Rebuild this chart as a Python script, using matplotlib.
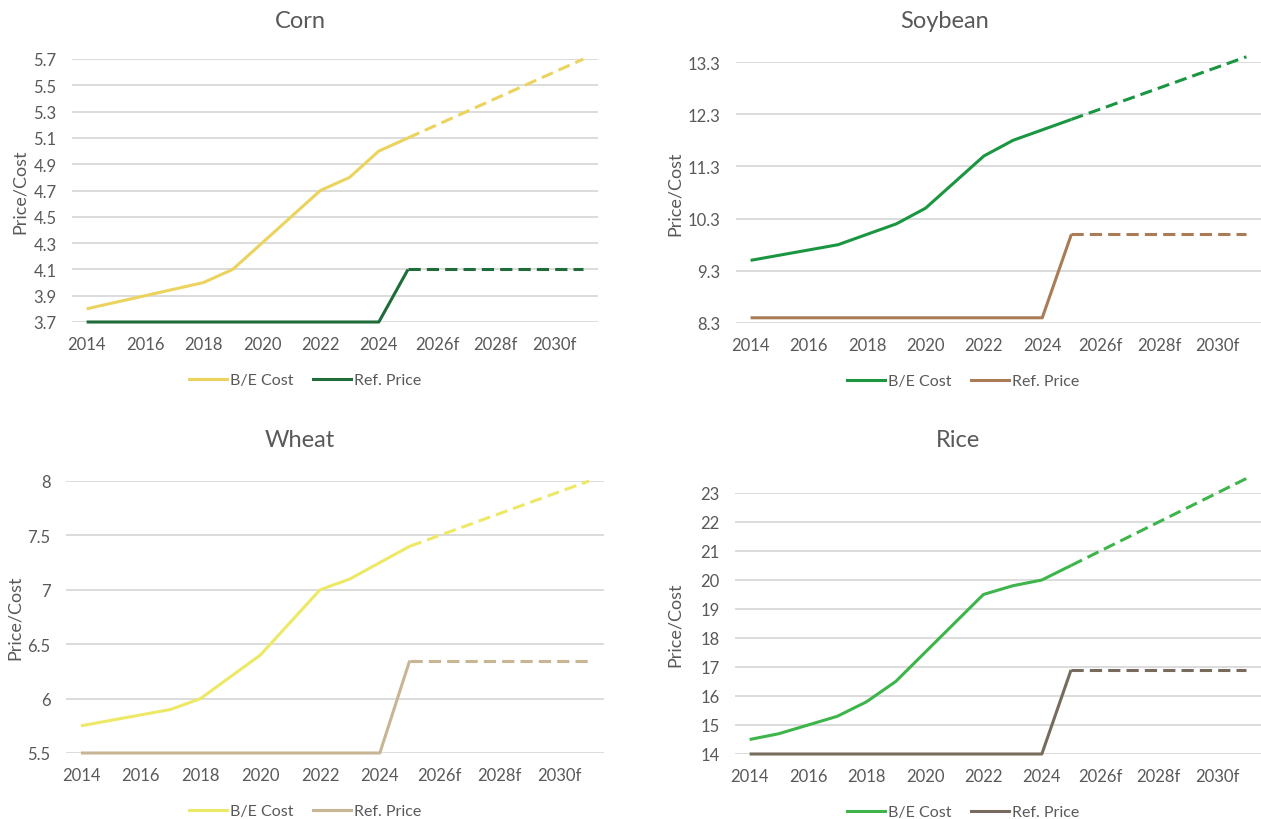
import matplotlib
matplotlib.use("Agg")
import matplotlib.pyplot as plt
from matplotlib.lines import Line2D

plt.rcParams['font.family'] = ['Lato', 'DejaVu Sans']

W, H = 1261, 820

years = list(range(2014, 2032))
tick_years = [2014, 2016, 2018, 2020, 2022, 2024, 2026, 2028, 2030]
tick_labels = ["2014", "2016", "2018", "2020", "2022", "2024", "2026f", "2028f", "2030f"]
last_actual = 2025

corn_cost = [3.8, 3.85, 3.9, 3.95, 4.0, 4.1, 4.3, 4.5, 4.7, 4.8, 5.0, 5.1,
             5.2, 5.3, 5.4, 5.5, 5.6, 5.7]
corn_ref = [3.7] * 11 + [4.1] * 7
corn_ticks = [3.7, 3.9, 4.1, 4.3, 4.5, 4.7, 4.9, 5.1, 5.3, 5.5, 5.7]

soy_cost = [9.5, 9.6, 9.7, 9.8, 10.0, 10.2, 10.5, 11.0, 11.5, 11.8, 12.0, 12.2,
            12.4, 12.6, 12.8, 13.0, 13.2, 13.4]
soy_ref = [8.4] * 11 + [10.0] * 7
soy_ticks = [8.3, 9.3, 10.3, 11.3, 12.3, 13.3]

wheat_cost = [5.75, 5.8, 5.85, 5.9, 6.0, 6.2, 6.4, 6.7, 7.0, 7.1, 7.25, 7.4,
              7.5, 7.6, 7.7, 7.8, 7.9, 8.0]
wheat_ref = [5.5] * 11 + [6.35] * 7
wheat_ticks = [5.5, 6, 6.5, 7, 7.5, 8]

rice_cost = [14.5, 14.7, 15.0, 15.3, 15.8, 16.5, 17.5, 18.5, 19.5, 19.8, 20.0, 20.5,
             21.0, 21.5, 22.0, 22.5, 23.0, 23.5]
rice_ref = [14.0] * 11 + [16.9] * 7
rice_ticks = [14, 15, 16, 17, 18, 19, 20, 21, 22, 23]

# name, cost, ref, ticks, cost colour, ref colour,
# axes box (px: left, right, top, bottom), title position, y-label x, legend centre x
panels = [
    ("Corn", corn_cost, corn_ref, corn_ticks, "#EBD35E", "#1F6B3A",
     (72, 598, 60, 323), (300, 21), 20, 305),
    ("Soybean", soy_cost, soy_ref, soy_ticks, "#1A9641", "#A97C55",
     (736, 1261, 63, 324), (945, 21), 675, 963),
    ("Wheat", wheat_cost, wheat_ref, wheat_ticks, "#EDE865", "#C8B594",
     (66, 604, 482, 754), (300, 441), 15, 305),
    ("Rice", rice_cost, rice_ref, rice_ticks, "#3DB54A", "#776B5D",
     (735, 1261, 494, 755), (958, 441), 675, 963),
]

fig = plt.figure(figsize=(W / 100, H / 100), dpi=100)
fig.patch.set_facecolor("white")

text_grey = "#595959"
lw = 2.2
dash = (0, (4, 2))
split = years.index(last_actual)

for name, cost, ref, ticks, c_cost, c_ref, box, title_xy, ylab_x, leg_x in panels:
    l, r, t, b = box
    ax = fig.add_axes([l / W, 1 - b / H, (r - l) / W, (b - t) / H])
    ax.set_xlim(2013.5, 2031.5)
    ax.set_ylim(ticks[0], ticks[-1])

    # actual years solid, forecast years dashed
    for vals, col in ((ref, c_ref), (cost, c_cost)):
        ax.plot(years[:split + 1], vals[:split + 1], color=col, lw=lw,
                solid_capstyle="butt", clip_on=False, zorder=3)
        ax.plot(years[split:], vals[split:], color=col, lw=lw, linestyle=dash,
                clip_on=False, zorder=3)

    ax.set_yticks(ticks)
    ax.set_yticklabels([f"{v:g}" for v in ticks])
    ax.set_xticks(tick_years)
    ax.set_xticklabels(tick_labels)
    ax.tick_params(length=0, labelsize=12, labelcolor=text_grey)
    ax.tick_params(axis="x", pad=10)
    ax.tick_params(axis="y", pad=11)
    ax.yaxis.grid(True, color="#D9D9D9", lw=1.3)
    ax.set_axisbelow(True)
    for s in ax.spines.values():
        s.set_visible(False)

    fig.text(ylab_x / W, 1 - ((t + b) / 2) / H, "Price/Cost", rotation=90,
             ha="center", va="center", fontsize=13, color=text_grey)

    fig.text(title_xy[0] / W, 1 - title_xy[1] / H, name, ha="center", va="center",
             fontsize=17, color=text_grey)

    handles = [Line2D([], [], color=c_cost, lw=lw),
               Line2D([], [], color=c_ref, lw=lw)]
    fig.legend(handles, ["B/E Cost", "Ref. Price"], loc="center",
               bbox_to_anchor=(leg_x / W, 1 - (b + 58) / H), ncol=2,
               frameon=False, fontsize=11.5, labelcolor=text_grey,
               handlelength=2.4, handletextpad=0.2, columnspacing=1.2)

fig.savefig("out.png", dpi=100, facecolor="white")
